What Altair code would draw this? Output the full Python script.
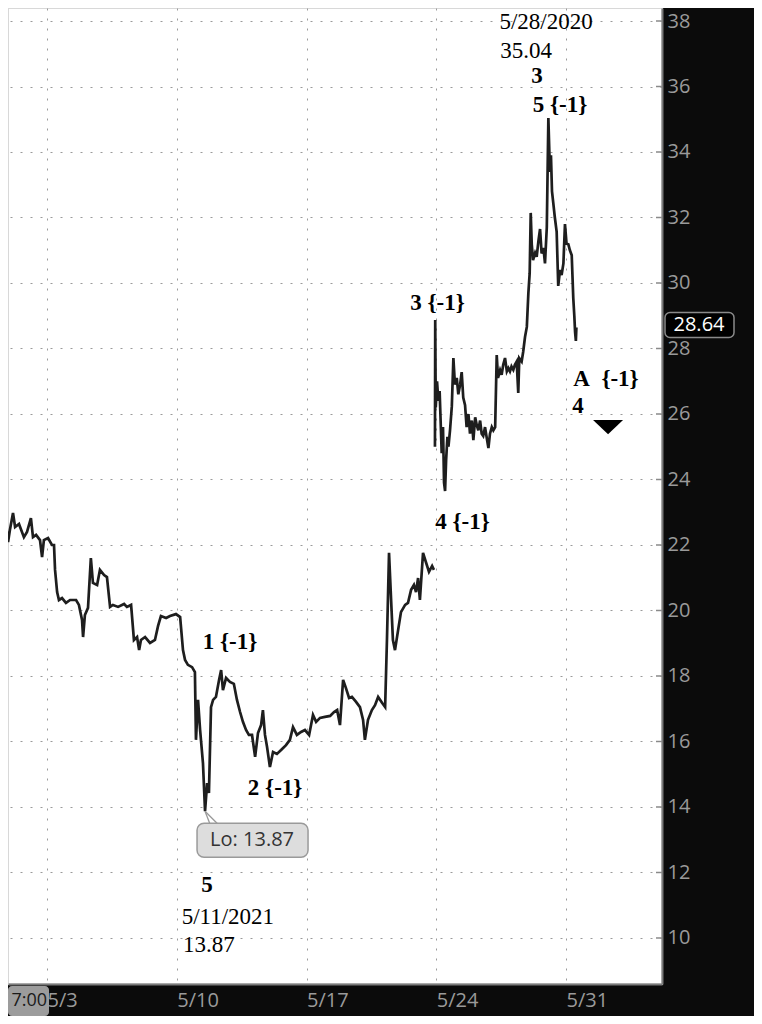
import altair as alt
import pandas as pd

# ---- price series (x = trading-day index, 5/3 = 0; y = price) ----
s1_x = [-1.81,-1.70,-1.62,-1.54,-1.50,-1.43,-1.31,-1.23,-1.08,-0.89,
        -0.77,-0.62,-0.54,-0.42,-0.27,-0.19,-0.12,0.04,0.19,0.27,
        0.31,0.39,0.46,0.58,0.73,0.89,1.12,1.23,1.35,1.39,
        1.46,1.58,1.69,1.77,1.93,2.04,2.20,2.31,2.43,2.54,
        2.74,2.97,3.08,3.24,3.35,3.47,3.55,3.62,3.78,3.97,
        4.16,4.28,4.39,4.59,4.74,4.97,5.13,5.24,5.32,5.43,
        5.59,5.70,5.74,5.82,5.90,6.01,6.09,6.17,6.24,6.32,
        6.40,6.51,6.63,6.71,6.78,6.90,7.05,7.20,7.32,7.44,
        7.55,7.67,7.78,7.90,8.02,8.13,8.25,8.32,8.40,8.48,
        8.59,8.71,8.86,9.02,9.21,9.36,9.48,9.63,9.79,9.94,
        10.10,10.25,10.37,10.52,10.71,10.91,11.06,11.18,11.29,11.41,
        11.52,11.64,11.75,11.91,12.06,12.18,12.25,12.37,12.52,12.64,
        12.76,12.91,13.03,13.10,13.18,13.26,13.33,13.41,13.53,13.64,
        13.80,13.91,14.03,14.14,14.22,14.30,14.37,14.49,14.60,14.72,
        14.84,14.91]
s1_y = [23.77,23.37,22.76,22.37,22.09,22.46,22.98,22.55,22.64,22.24,
        22.40,22.82,22.24,22.31,22.15,21.63,22.15,22.21,22.00,22.00,
        21.24,20.56,20.32,20.38,20.23,20.32,20.32,20.17,19.71,19.19,
        19.86,20.08,21.60,20.84,20.78,21.24,21.08,21.02,20.11,20.17,
        20.11,20.20,20.11,20.17,19.10,19.19,18.79,19.10,19.19,19.01,
        19.10,19.53,19.83,19.77,19.83,19.89,19.80,18.79,18.49,18.34,
        18.27,18.12,16.05,17.27,16.35,15.34,13.87,14.73,14.43,17.05,
        17.27,17.36,17.88,18.18,17.57,17.94,17.82,17.76,17.27,16.90,
        16.60,16.35,16.20,16.20,15.53,16.26,16.50,16.96,16.20,15.83,
        15.22,15.68,15.62,15.74,15.89,16.05,16.44,16.20,16.29,16.35,
        16.20,16.81,16.60,16.72,16.75,16.78,16.90,16.96,16.50,17.88,
        17.63,17.33,17.36,17.21,17.05,16.66,16.05,16.66,16.96,17.11,
        17.36,17.18,17.05,19.10,21.76,20.32,19.10,18.79,19.40,19.95,
        20.17,20.23,20.63,20.78,20.56,20.99,20.32,21.76,21.48,21.18,
        21.36,21.24]
s2_x = [14.95,14.96,14.98,15.03,15.08,15.13,15.21,15.26,15.30,15.34,
        15.38,15.43,15.47,15.53,15.60,15.66,15.72,15.79,15.85,15.92,
        15.98,16.04,16.11,16.17,16.24,16.30,16.37,16.43,16.50,16.56,
        16.62,16.69,16.75,16.81,16.88,16.94,17.01,17.07,17.14,17.20,
        17.27,17.33,17.38,17.46,17.52,17.58,17.65,17.72,17.78,17.84,
        17.90,17.97,18.03,18.10,18.16,18.20,18.29,18.35,18.42,18.49,
        18.55,18.60,18.64,18.68,18.73,18.81,18.87,18.94,19.00,19.06,
        19.13,19.19,19.26,19.32,19.38,19.42,19.46,19.51,19.57,19.64,
        19.70,19.77,19.83,19.90,19.96,20.02,20.09,20.15,20.22,20.28,
        20.32,20.35,20.38,20.40]
s2_y = [25.0,28.87,26.2,27.0,26.4,26.7,24.8,25.6,23.9,23.65,
        24.6,25.3,25.0,25.5,26.24,27.71,26.9,27.1,26.6,26.9,
        27.28,26.5,26.27,25.6,26.0,25.4,25.8,25.2,25.9,25.66,
        25.5,25.8,25.4,25.33,25.6,25.3,24.96,25.4,25.6,25.5,
        25.6,27.8,27.1,27.34,27.2,27.5,27.71,27.3,27.4,27.3,
        27.45,27.35,27.5,27.6,26.64,27.7,27.6,27.9,28.35,28.66,
        29.7,30.3,32.14,31.18,30.7,30.92,30.8,31.3,31.65,30.9,
        31.07,30.6,31.7,35.04,33.39,33.9,32.8,32.44,32.0,31.56,
        29.91,30.4,30.24,30.6,31.8,31.2,31.18,31.0,30.85,29.54,
        29.0,28.5,28.23,28.64]

# ---- axes ----
x_tick_pos = [0, 5, 10, 15, 20]
x_tick_labels = ["5/3", "5/10", "5/17", "5/24", "5/31"]
y_ticks = list(range(10, 40, 2))

# ---- annotations ----
ann_text = ["5/28/2020", "35.04", "3", "5 {-1}", "3 {-1}", "4 {-1}",
            "A\u00a0\u00a0{-1}", "4", "1 {-1}", "2 {-1}", "5", "5/11/2021", "13.87"]
ann_x = [19.23, 18.46, 18.88, 19.77, 15.05, 16.01, 21.54, 20.46, 7.05, 8.79, 6.17, 6.97, 6.24]
ann_y = [37.97, 37.08, 36.32, 35.43, 29.39, 22.70, 27.07, 26.24, 19.04, 14.58, 11.62, 10.64, 9.79]
ann_bold = [False, False, True, True, True, True, True, True, True, True, True, False, False]

low_x, low_y, low_label = [6.09], [13.87], ["Lo: 13.87"]
last_price = [28.64]
arrow_x, arrow_y = [21.62], [25.60]

W, H = 654, 976
X_DOMAIN = [-1.503, 23.699]
Y_DOMAIN = [8.595, 38.397]

price = pd.DataFrame({
    "x": s1_x + s2_x,
    "y": s1_y + s2_y,
    "seg": ["a"] * len(s1_x) + ["b"] * len(s2_x),
})
ann = pd.DataFrame({"x": ann_x, "y": ann_y, "t": ann_text, "b": ann_bold})
low = pd.DataFrame({"x": low_x, "y": low_y, "t": low_label})
last = pd.DataFrame({"y": last_price, "t": [f"{v:.2f}" for v in last_price]})
arrow = pd.DataFrame({"x": arrow_x, "y": arrow_y})
yt = pd.DataFrame({"y": y_ticks})
corner = pd.DataFrame({"t": ["7:00"]})

lab_expr = "".join(f"datum.value == {p} ? '{l}' : " for p, l in zip(x_tick_pos, x_tick_labels)) + "''"

X = alt.X("x:Q", scale=alt.Scale(domain=X_DOMAIN, nice=False, zero=False),
          axis=alt.Axis(values=x_tick_pos, labelExpr=lab_expr, title=None, grid=True,
                        gridDash=[2, 8], gridColor="#9a9a9a", ticks=False,
                        domainColor="#7a7a7a", domainWidth=2, labelColor="#9a9a9a",
                        labelFont="Open Sans", labelFontSize=20, labelAlign="left",
                        labelBaseline="top", labelPadding=6, labelFlush=False,
                        labelOverlap=False))
Y = alt.Y("y:Q", scale=alt.Scale(domain=Y_DOMAIN, nice=False, zero=False),
          axis=alt.Axis(orient="right", values=y_ticks, title=None, grid=True,
                        gridDash=[2, 8], gridColor="#9a9a9a", ticks=False,
                        domainColor="#7a7a7a", domainWidth=2, labelColor="#9a9a9a",
                        labelFont="Open Sans", labelFontSize=20, labelAlign="left",
                        labelBaseline="middle", labelPadding=5, format="d",
                        labelOverlap=False, labelFlush=False))

line = alt.Chart(price).mark_line(color="#1e1e1e", strokeWidth=2.7, clip=True,
                                  strokeJoin="miter").encode(
    x=X, y=Y, detail="seg:N")

inner_ticks = alt.Chart(yt).mark_rule(color="#8a8a8a", strokeWidth=1.5).encode(
    x=alt.value(W - 6), x2=alt.value(W), y=Y)

bold_txt = alt.Chart(ann).transform_filter("datum.b").mark_text(
    font="Liberation Serif", fontSize=23, fontWeight="bold", color="black",
    align="center", baseline="middle").encode(x=X, y=Y, text="t:N")
norm_txt = alt.Chart(ann).transform_filter("!datum.b").mark_text(
    font="Liberation Serif", fontSize=23, color="black",
    align="center", baseline="middle").encode(x=X, y=Y, text="t:N")

tri = alt.Chart(arrow).mark_point(
    shape="M-1,-0.47L1,-0.47L0,0.47Z", size=900, filled=True, color="black",
    opacity=1).encode(x=X, y=Y)

ptr1 = alt.Chart(low).mark_rule(color="#9a9a9a", strokeWidth=1.3, x2Offset=5, y2Offset=13).encode(
    x=X, y=Y, x2=alt.X2("x"), y2=alt.Y2("y"))
ptr2 = alt.Chart(low).mark_rule(color="#9a9a9a", strokeWidth=1.3, x2Offset=13, y2Offset=13).encode(
    x=X, y=Y, x2=alt.X2("x"), y2=alt.Y2("y"))
lo_box = alt.Chart(low).mark_rect(
    xOffset=-8, x2Offset=103, yOffset=12, y2Offset=46, cornerRadius=7,
    fill="#dddddd", stroke="#9a9a9a", strokeWidth=1.5).encode(
    x=X, y=Y, x2=alt.X2("x"), y2=alt.Y2("y"))
lo_txt = alt.Chart(low).mark_text(
    dx=47, dy=29, font="Open Sans", fontSize=20, color="#333333",
    align="center", baseline="middle").encode(x=X, y=Y, text="t:N")

tag_box = alt.Chart(last).mark_rect(
    yOffset=-15, y2Offset=10, cornerRadius=5, fill="#000000",
    stroke="#8a8a8a", strokeWidth=1.5).encode(
    x=alt.value(W + 3), x2=alt.value(W + 72), y=Y, y2=alt.Y2("y"))
tag_txt = alt.Chart(last).mark_text(
    dy=-3, font="Open Sans", fontSize=20, color="white",
    align="center", baseline="middle").encode(x=alt.value(W + 37), y=Y, text="t:N")

corner_box = alt.Chart(corner).mark_rect(fill="#9c9c9c", cornerRadius=4).encode(
    x=alt.value(0), x2=alt.value(41), y=alt.value(H + 2), y2=alt.value(H + 32))
corner_txt = alt.Chart(corner).mark_text(
    font="Open Sans", fontSize=18, color="#1a1a1a", align="right",
    baseline="middle").encode(x=alt.value(39), y=alt.value(H + 17), text="t:N")

chart = alt.layer(
    line, inner_ticks, bold_txt, norm_txt, tri, ptr1, ptr2, lo_box, lo_txt,
    tag_box, tag_txt, corner_box, corner_txt
).properties(
    width=W, height=H, background="#0b0b0b",
    autosize=alt.AutoSizeParams(type="none"),
    padding={"left": 0, "top": 0, "right": 92, "bottom": 32},
).configure_view(fill="white", stroke="#d8d8d8", strokeWidth=2)

chart.save("out.html", embed_options={"renderer": "svg", "actions": False})
